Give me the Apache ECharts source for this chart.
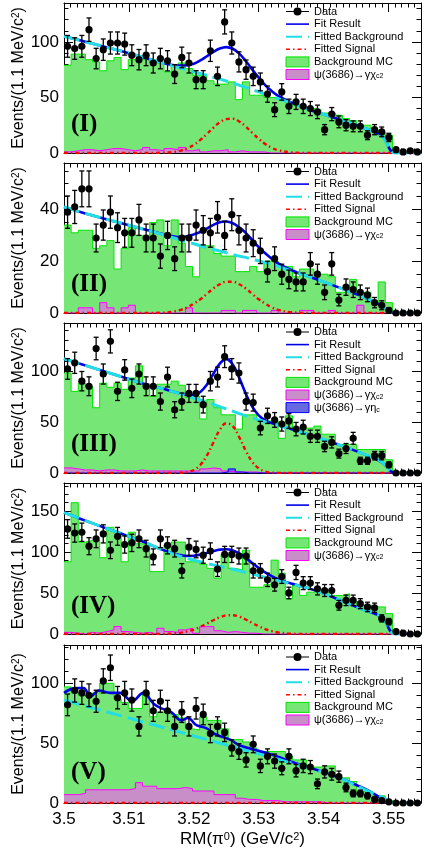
<!DOCTYPE html>
<html>
<head>
<meta charset="utf-8">
<script src="https://cdn.jsdelivr.net/npm/echarts/dist/echarts.min.js"></script>
<style>
html, body { margin: 0; padding: 0; background: #fff; }
#main { width: 424px; height: 852px; }
</style>
</head>
<body>
<div id="main"></div>
<script>
// binning of RM(pi0): 50 bins of 1.1 MeV from 3.5
var X0 = 3.5, BIN_W = 0.0011, N_BINS = 50, X_MAX = 3.555;

// panel I
var data1   = [96,94,96,111,85,93,99,99,98,88, 84,88,81,85,83,71,86,81,66,66, 92,69,118,99,82,75,69,64,53,39, 55,42,46,42,40,37,21,35,28,25, 24,24,16,21,19,14,3,1,2,1];
var bkgMc1  = [79,89,89,84,82,74,83,86,75,84, 84,84,81,81,73,78,81,76,70,70, 65,62,62,64,48,64,52,52,50,50, 48,45,43,41,40,39,36,36,34,31, 29,25,25,21,19,16,0,0,0,0];
var psiMc1  = [1,2,3,3,2,3,4,4,3,2, 3,5,3,2,4,3,5,2,3,1, 2,2,3,1,2,1,1,1,0,0, 0,0,0,0,0,0,0,0,0,0, 0,0,0,0,0,0,0,0,0,0];
// panel II
var data2   = [39,41,48,48,29,34,39,33,31,31, 36,29,29,22,30,21,29,29,34,32, 31,37,30,38,32,29,27,24,16,21, 15,13,12,12,19,15,8,19,5,10, 9,8,7,4,3,1,0,0,0,0];
var bkgMc2  = [34,31,32,32,25,26,28,17,25,33, 30,30,35,36,26,36,27,18,14,26, 26,23,22,22,16,16,18,16,20,20, 18,18,14,17,17,15,15,14,8,8, 13,8,8,4,12,4,0,0,0,0];
var psiMc2  = [0,0,2,2,0,4,2,0,2,3, 0,0,0,0,0,0,0,2,0,0, 0,0,1,1,0,1,1,0,0,1, 0,0,0,1,1,0,0,1,0,0, 0,3,0,0,0,0,0,0,0,0];
// panel III
var data3   = [102,108,90,85,122,97,129,80,101,83, 97,85,85,70,94,62,70,78,78,67, 90,94,114,102,98,70,69,44,56,52, 48,51,43,45,36,36,26,30,19,24, 34,12,12,17,17,8,0,0,0,0];
var bkgMc3  = [98,80,88,85,64,88,84,88,82,93, 105,87,75,87,87,90,86,74,75,53, 72,64,57,57,43,57,57,51,51,51, 34,56,44,44,44,46,38,38,28,28, 28,23,23,23,23,13,0,0,0,0];
var psiMc3  = [5,4,3,3,2,3,3,2,2,2, 3,2,2,2,2,2,2,2,2,4, 5,4,2,1,1,1,1,0,0,0, 0,0,0,0,0,0,0,0,0,0, 0,0,0,0,0,0,0,0,0,0];
var etaMc3  = [0,0,0,0,0,0,0,0,0,0, 0,0,0,0,0,0,0,0,0,0, 0,0,1,4,1,0,0,0,0,0, 0,0,0,0,0,0,0,0,0,0, 0,0,0,0,0,0,0,0,0,0];
// panel IV
var data4   = [128,123,124,107,116,122,102,119,109,111, 116,104,94,116,108,104,77,106,103,96, 101,79,97,97,95,95,77,77,66,60, 70,50,75,62,62,55,53,53,35,41, 41,37,33,32,19,15,3,1,0,0];
var bkgMc4  = [88,160,112,114,114,93,130,124,88,124, 110,108,76,76,108,112,112,88,88,85, 80,68,97,80,78,102,57,57,60,90, 74,43,60,47,51,51,51,47,47,49, 39,35,35,33,33,25,0,0,0,0];
var psiMc4  = [2,1,0,2,1,3,5,9,3,2, 1,2,0,7,3,2,5,7,1,9, 9,4,2,3,2,1,1,0,0,0, 0,0,0,0,0,0,0,0,0,0, 0,0,0,0,0,0,0,0,0,0];
// panel V
var data5   = [82,94,92,90,85,102,113,88,92,86, 64,92,77,85,77,64,76,64,79,74, 58,64,59,46,43,36,49,31,39,35, 29,39,27,31,30,16,26,24,22,13, 8,8,6,3,2,1,0,0,0,0];
var bkgMc5  = [97,92,90,90,92,100,100,87,84,79, 79,92,72,76,76,74,71,62,61,72, 69,69,62,53,53,51,46,43,43,43, 43,39,36,36,30,30,31,31,21,21, 18,10,10,6,6,2,0,0,0,0];
var psiMc5  = [7,7,8,11,11,11,11,11,11,12, 17,14,14,12,12,12,13,12,10,10, 10,7,7,7,4,3,3,2,2,2, 1,1,1,1,1,1,0,0,0,0, 0,0,0,0,0,0,0,0,0,0];

// fit curves, read at these masses
var fitX = [3.500,3.504,3.508,3.512,3.515,3.517,3.518,3.519,3.520,3.521,3.522,3.523,3.524,3.525,3.526,3.527,3.528,3.529,3.530,3.531,3.532,3.533,3.535,3.538,3.542,3.546,3.549,3.551,3.555];
var fitTot1 = [105,99,93,86.5,81.5,79,78.7,79,80.3,83.3,87.1,90.9,94,95.3,93.8,89.4,82.8,75.2,67.8,61.1,55.7,51.5,45.6,38.5,31,23,15,0,0];
var fitBkg1 = [105,99,93,86.5,81.3,78,76.5,74.8,73,71.5,70,68.2,66.5,64.8,63,61,59,57,55,53,51,49,45,38.5,31,23,15,0,0];
var fitSig1 = [0,0,0,0,0.2,1.0,2.2,4.2,7.3,11.8,17.1,22.7,27.5,30.5,30.8,28.4,23.8,18.2,12.8,8.1,4.7,2.5,0.6,0,0,0,0,0,0];
var fitTot2 = [41,38,35.3,32.6,30.6,29.6,29.4,29.7,30.4,31.3,32.6,34.1,35.1,35.4,34.7,33.1,31,28.2,25.5,23.1,21,19.2,16.6,13.8,10.2,6.3,2.8,0,0];
var fitBkg2 = [41,38,35.3,32.6,30.5,29,28.2,27.5,26.8,26,25.2,24.6,24,23.3,22.6,22,21.5,20.8,20.2,19.5,18.8,18,16.3,13.8,10.2,6.3,2.8,0,0];
var fitSig2 = [0,0,0,0,0.1,0.6,1.2,2.2,3.6,5.3,7.4,9.5,11.1,12.1,12.1,11.1,9.5,7.4,5.3,3.6,2.2,1.2,0.3,0,0,0,0,0,0];
var fitTot3 = [112,104,96,88,83,79.3,77.7,76.4,76.5,79.4,86.5,97,107.2,111.6,106.4,93.2,77.8,65,56.5,51.7,48.9,46.9,43,37,28.5,19,10.5,0,0];
var fitBkg3 = [112,104,96,88,83,79.3,77.5,75.5,73.5,71.5,69.5,67.3,65,62.8,60.5,58.2,56,54,52,50.2,48.5,46.8,43,37,28.5,19,10.5,0,0];
var fitSig3 = [0,0,0,0,0,0.05,0.2,0.9,3.0,7.9,17,29.7,42.2,48.8,45.9,35,21.8,11,4.5,1.5,0.4,0.1,0,0,0,0,0,0,0];
var fitTot4 = [148,136,124.5,113,103.1,97.7,96.1,95.1,95.4,96.8,98.7,101,102.8,103.2,101.7,98.1,92.7,86.5,80.5,75,70.5,66.9,61.4,55,43,30,20,0,0];
var fitBkg4 = [148,136,124.5,113,103,97,94.5,92,90,88,86,84.2,82.4,80.6,78.8,77,75,73,71,69,67,65,61,55,43,30,20,0,0];
var fitSig4 = [0,0,0,0,0.1,0.7,1.6,3.1,5.4,8.8,12.7,16.8,20.4,22.6,22.9,21.1,17.7,13.5,9.5,6.0,3.5,1.9,0.4,0,0,0,0,0,0];
var fitBkg5 = [86,80,74,68,63.5,60.5,59,57.5,56,54.5,53,51.5,50,48.5,47,45.5,44,42.5,41,39.5,38,36.5,33.5,29,22,12,5,0,0];
var fitSig5 = [0,0,0,0,0,0,0,0,0,0,0,0,0,0,0,0,0,0,0,0,0,0,0,0,0,0,0,0,0];
var fitX5   = [3.5000,3.5018,3.5030,3.5041,3.5054,3.5071,3.5086,3.5105,3.5122,3.5138,3.5150,3.5165,3.5181,3.5191,3.5204,3.5219,3.5235,3.5256,3.5271,3.5312,3.5364,3.5415,3.5467,3.5510,3.5550];
var fitTot5 = [92,96,96,89,94,92,92,85,92,83,79,76,69,71,65,62.5,57,53,48,41.7,32,23,11,0,0];

// y axis of each pad
var yMax   = [135, 58, 147, 184, 132];
var yStep  = [50, 20, 50, 50, 50];
var yMinor = [5, 4, 5, 5, 5];
var padLabels = ['(I)', '(II)', '(III)', '(IV)', '(V)'];

// layout of the pads (px)
var padTop    = [3, 163, 323, 483, 645];
var padHeight = [150, 150, 150, 151, 158];
var legendTop = [6, 166, 326.5, 487, 651.5];
var labelTop  = [112, 272, 432, 594, 760];

var PSI_CHI = 'ψ(3686)→γχc2';
var PSI_ETA = 'ψ(3686)→γηc';
var FONT = 'Liberation Sans';

// hatched ROOT fills, drawn as their mean colour
var greenFill = '#76e676';
var pinkFill  = '#c88ec8';
var blueFill  = '#6868e0';

function zip(xs, ys) { return xs.map(function (x, i) { return [x, ys[i]]; }); }
function histPts(vals) {
  var pts = vals.map(function (v, i) { return [X0 + i * BIN_W, v]; });
  pts.push([X0 + N_BINS * BIN_W, vals[N_BINS - 1]]);
  return pts;
}

var panels = [
  { data: data1, mc: bkgMc1, psi: psiMc1, eta: null, tx: fitX, tot: fitTot1, bkg: fitBkg1, sig: fitSig1 },
  { data: data2, mc: bkgMc2, psi: psiMc2, eta: null, tx: fitX, tot: fitTot2, bkg: fitBkg2, sig: fitSig2 },
  { data: data3, mc: bkgMc3, psi: psiMc3, eta: etaMc3, tx: fitX, tot: fitTot3, bkg: fitBkg3, sig: fitSig3 },
  { data: data4, mc: bkgMc4, psi: psiMc4, eta: null, tx: fitX, tot: fitTot4, bkg: fitBkg4, sig: fitSig4 },
  { data: data5, mc: bkgMc5, psi: psiMc5, eta: null, tx: fitX5, tot: fitTot5, bkg: fitBkg5, sig: fitSig5 }
];

var grids = [], xAxes = [], yAxes = [], series = [], legends = [], graphics = [];

var tickStyle = { color: '#000', width: 1 };
var noSymbol = { opacity: 0, color: 'rgba(0,0,0,0)', borderWidth: 0 };

panels.forEach(function (p, k) {
  grids.push({ left: 64, right: 3, top: padTop[k], height: padHeight[k], outerBoundsMode: 'none' });

  ['bottom', 'top'].forEach(function (pos) {
    var bottom = pos === 'bottom';
    xAxes.push({
      type: 'value', gridIndex: k, position: pos, min: X0, max: X_MAX, interval: 0.01,
      axisLine: { show: true, onZero: false, lineStyle: tickStyle },
      axisTick: { show: true, inside: true, length: 9, lineStyle: tickStyle },
      minorTick: { show: true, splitNumber: 10, length: 4.5, lineStyle: tickStyle },
      splitLine: { show: false },
      axisLabel: {
        show: bottom && k === 4, showMaxLabel: false, margin: 8,
        fontSize: 17, fontFamily: FONT, color: '#000',
        formatter: function (v) { return String(parseFloat(v.toFixed(3))); }
      },
      name: (bottom && k === 4) ? 'RM(π{sup|0}) (GeV/c{sup|2})' : '',
      nameLocation: 'middle', nameGap: 28, nameMoveOverlap: false,
      nameTextStyle: { fontSize: 17, fontFamily: FONT, color: '#000',
        rich: { sup: { fontSize: 11, fontFamily: FONT, verticalAlign: 'top', color: '#000' } } }
    });
  });

  ['left', 'right'].forEach(function (pos) {
    var left = pos === 'left';
    yAxes.push({
      type: 'value', gridIndex: k, position: pos, min: 0, max: yMax[k], interval: yStep[k],
      axisLine: { show: true, onZero: false, lineStyle: tickStyle },
      axisTick: { show: true, inside: true, length: 9, lineStyle: tickStyle },
      minorTick: { show: true, splitNumber: yMinor[k], length: 4.5, lineStyle: tickStyle },
      splitLine: { show: false },
      axisLabel: { show: left, showMaxLabel: false, margin: 5, fontSize: 17, fontFamily: FONT, color: '#000' },
      name: left ? 'Events/(1.1 MeV/c{sup|2})' : '',
      nameLocation: 'middle', nameGap: 37, nameMoveOverlap: false,
      nameTextStyle: { fontSize: 16, fontFamily: FONT, color: '#000',
        rich: { sup: { fontSize: 10, fontFamily: FONT, verticalAlign: 'top', color: '#000' } } }
    });
  });

  var xi = 2 * k, yi = 2 * k;

  series.push({
    type: 'line', name: 'Background MC', xAxisIndex: xi, yAxisIndex: yi, z: 1,
    data: histPts(p.mc), step: 'end', symbol: 'none', showSymbol: false,
    lineStyle: { color: '#00e600', width: 1 },
    itemStyle: { color: '#00e600' },
    areaStyle: { color: greenFill, opacity: 1 }
  });
  series.push({
    type: 'line', name: PSI_CHI, xAxisIndex: xi, yAxisIndex: yi, z: 2,
    data: histPts(p.psi), step: 'end', symbol: 'none', showSymbol: false,
    lineStyle: { color: '#ff00ff', width: 1 },
    itemStyle: { color: '#ff00ff' },
    areaStyle: { color: pinkFill, opacity: 1 }
  });
  if (p.eta) {
    series.push({
      type: 'line', name: PSI_ETA, xAxisIndex: xi, yAxisIndex: yi, z: 2,
      data: histPts(p.eta), step: 'end', symbol: 'none', showSymbol: false,
      lineStyle: { color: '#0000ff', width: 1 },
      itemStyle: { color: '#0000ff' },
      areaStyle: { color: blueFill, opacity: 1 }
    });
  }
  series.push({
    type: 'line', name: 'Fitted Signal', xAxisIndex: xi, yAxisIndex: yi, z: 3,
    data: zip(fitX, p.sig), smooth: 0.4, symbol: 'none', showSymbol: false,
    lineStyle: { color: '#ff0000', width: 2.4, type: [4, 3, 1.5, 3] },
    itemStyle: { color: '#ff0000' }
  });
  series.push({
    type: 'line', name: 'Fit Result', xAxisIndex: xi, yAxisIndex: yi, z: 4,
    data: zip(p.tx, p.tot), smooth: 0.4, symbol: 'none', showSymbol: false,
    lineStyle: { color: '#0000e6', width: 2.6 },
    itemStyle: { color: '#0000e6' }
  });
  series.push({
    type: 'line', name: 'Fitted Background', xAxisIndex: xi, yAxisIndex: yi, z: 5,
    data: zip(fitX, p.bkg), smooth: 0.4, symbol: 'none', showSymbol: false,
    lineStyle: { color: '#22dde6', width: 3, type: [16, 6] },
    itemStyle: { color: '#22dde6' }
  });
  series.push({
    type: 'custom', name: 'Data', xAxisIndex: xi, yAxisIndex: yi, z: 6,
    data: p.data.map(function (v, i) { return [X0 + (i + 0.5) * BIN_W, v, Math.sqrt(v)]; }),
    encode: { x: 0, y: 1 },
    itemStyle: { color: '#000' },
    renderItem: function (params, api) {
      var x = api.value(0), y = api.value(1), e = api.value(2);
      var c = api.coord([x, y]);
      var t = api.coord([x, y + e]);
      var b = api.coord([x, Math.max(y - e, 0)]);
      var cap = 2.5;
      var st = { stroke: '#000', lineWidth: 1.3 };
      var kids = [];
      if (e > 0) {
        kids.push({ type: 'line', shape: { x1: c[0], y1: t[1], x2: c[0], y2: b[1] }, style: st });
        kids.push({ type: 'line', shape: { x1: c[0] - cap, y1: t[1], x2: c[0] + cap, y2: t[1] }, style: st });
        kids.push({ type: 'line', shape: { x1: c[0] - cap, y1: b[1], x2: c[0] + cap, y2: b[1] }, style: st });
      }
      kids.push({ type: 'circle', shape: { cx: c[0], cy: c[1], r: 3.6 }, style: { fill: '#000' } });
      return { type: 'group', children: kids };
    }
  });

  var items = [
    { name: 'Data', icon: 'path://M0,4.4H23V5.6H0Z M7.5,5A4,4 0 1,1 15.5,5A4,4 0 1,1 7.5,5Z', itemStyle: { color: '#000', borderWidth: 0 } },
    { name: 'Fit Result', lineStyle: { width: 1.6 }, itemStyle: noSymbol },
    { name: 'Fitted Background', lineStyle: { width: 2 }, itemStyle: noSymbol },
    { name: 'Fitted Signal', lineStyle: { width: 1.6 }, itemStyle: noSymbol },
    { name: 'Background MC', icon: 'rect', itemStyle: { color: greenFill, borderColor: '#00e600', borderWidth: 1 } },
    { name: PSI_CHI, icon: 'rect', itemStyle: { color: pinkFill, borderColor: '#ff00ff', borderWidth: 1 } }
  ];
  if (p.eta) {
    items.push({ name: PSI_ETA, icon: 'rect', itemStyle: { color: blueFill, borderColor: '#0000ff', borderWidth: 1 } });
  }
  legends.push({
    orient: 'vertical', left: 285, top: legendTop[k], padding: 0,
    itemWidth: 23, itemHeight: 10, itemGap: 1.6, selectedMode: false,
    textStyle: { fontSize: 11, fontFamily: FONT, color: '#000',
      rich: { sub: { fontSize: 7, fontFamily: FONT, color: '#000', verticalAlign: 'bottom' } } },
    formatter: function (name) {
      if (name === PSI_CHI) return 'ψ(3686)→γχ{sub|c2}';
      if (name === PSI_ETA) return 'ψ(3686)→γη{sub|c}';
      return name;
    },
    data: items
  });

  graphics.push({
    type: 'text', left: 71, top: labelTop[k], z: 20,
    style: { text: padLabels[k], font: 'bold 25px "Liberation Serif"', fill: '#000' }
  });
});

var chart = echarts.init(document.getElementById('main'), null, { renderer: 'canvas' });
chart.setOption({
  animation: false,
  backgroundColor: '#fff',
  grid: grids,
  xAxis: xAxes,
  yAxis: yAxes,
  legend: legends,
  graphic: graphics,
  series: series
});
</script>
</body>
</html>
